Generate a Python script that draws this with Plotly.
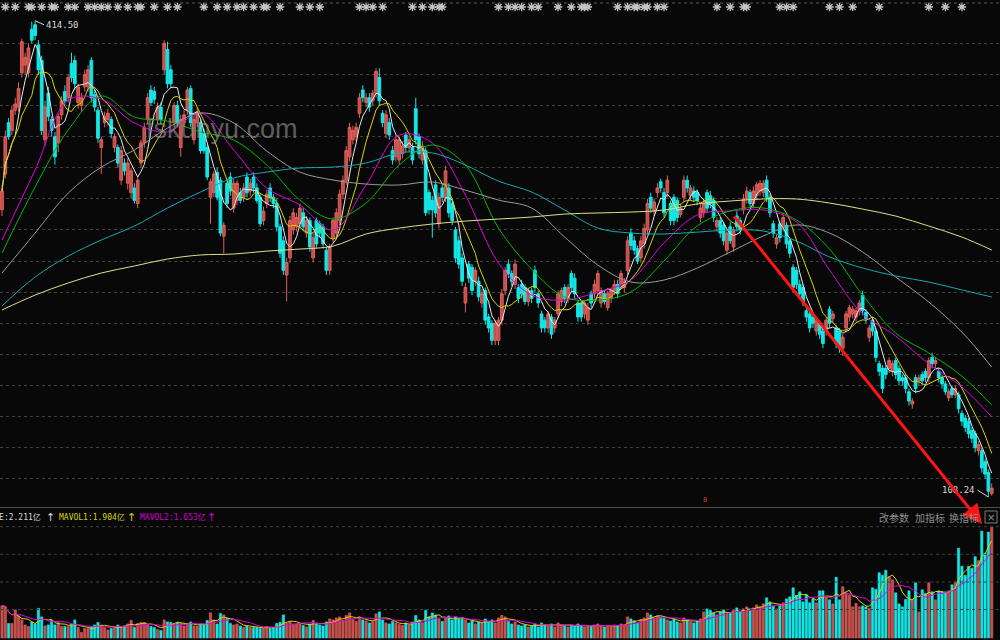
import plotly.graph_objects as go
import pandas as pd

# ---------------- data (prices in CNY, volume in 亿) ----------------
open_ = [
    293, 316, 349, 344, 357, 359, 381, 386, 381, 409,
    412, 399, 389, 338, 368, 351, 340, 336, 354, 369,
    365, 387, 389, 362, 360, 372, 372, 389, 367, 357,
    333, 349, 351, 351, 333, 333, 312, 323, 310, 304,
    307, 297, 323, 336, 351, 370, 369, 351, 359, 383,
    396, 383, 349, 360, 333, 349, 357, 371, 338, 349,
    349, 342, 333, 301, 304, 317, 312, 276, 310, 314,
    294, 299, 304, 301, 314, 305, 314, 307, 301, 286,
    297, 307, 301, 297, 282, 273, 251, 262, 280, 282,
    284, 291, 278, 286, 262, 286, 284, 282, 267, 254,
    275, 278, 286, 303, 312, 327, 338, 340, 355, 370,
    362, 365, 363, 368, 378, 355, 342, 349, 331, 327,
    325, 329, 341, 333, 333, 358, 340, 325, 331, 304,
    299, 309, 284, 307, 301, 307, 297, 280, 273, 262,
    233, 258, 256, 247, 247, 233, 241, 224, 220, 209,
    209, 222, 241, 258, 252, 245, 243, 245, 243, 234,
    241, 254, 239, 226, 222, 217, 224, 217, 226, 234,
    243, 236, 252, 249, 233, 233, 226, 222, 239, 239,
    241, 233, 239, 230, 236, 241, 245, 245, 243, 254,
    278, 273, 268, 262, 271, 280, 301, 292, 304, 311,
    304, 304, 297, 301, 299, 290, 301, 312, 302, 305,
    304, 288, 291, 304, 302, 299, 282, 286, 283, 267,
    282, 269, 289, 286, 293, 300, 304, 297, 302, 305,
    304, 312, 301, 284, 271, 284, 282, 283, 273, 256,
    254, 245, 243, 228, 226, 224, 215, 220, 215, 215,
    229, 223, 217, 215, 204, 217, 224, 226, 224, 228,
    238, 227, 211, 222, 215, 194, 191, 191, 191, 189,
    196, 191, 185, 185, 176, 168, 185, 183, 187, 189,
    185, 198, 194, 189, 185, 181, 172, 178, 174, 174,
    162, 159, 157, 151, 149, 138, 138, 131, 124, 110.5,
]
close = [
    305, 340, 340, 357, 361, 371, 401, 391, 397, 402,
    405, 383, 344, 359, 353, 344, 327, 353, 363, 363,
    378, 378, 374, 372, 365, 380, 383, 365, 359, 339,
    338, 353, 355, 342, 340, 323, 331, 318, 323, 318,
    299, 312, 336, 346, 365, 362, 364, 359, 351, 400,
    374, 374, 360, 349, 351, 354, 370, 349, 351, 356,
    331, 331, 314, 311, 316, 301, 278, 283, 297, 305,
    310, 310, 299, 307, 304, 310, 307, 299, 284, 292,
    303, 301, 297, 282, 265, 254, 259, 286, 291, 288,
    294, 282, 286, 269, 275, 271, 278, 271, 254, 269,
    286, 291, 303, 312, 331, 346, 344, 346, 365, 365,
    365, 359, 368, 382, 363, 349, 354, 341, 325, 338,
    338, 334, 333, 338, 325, 338, 329, 334, 291, 293,
    293, 291, 301, 301, 318, 291, 286, 262, 258, 247,
    243, 249, 241, 254, 237, 239, 222, 217, 209, 220,
    222, 239, 254, 252, 247, 258, 236, 239, 234, 241,
    236, 243, 233, 217, 217, 226, 213, 222, 239, 241,
    236, 243, 243, 239, 224, 224, 233, 230, 233, 245,
    252, 241, 234, 239, 241, 245, 239, 252, 247, 273,
    270, 267, 260, 273, 281, 297, 294, 298, 307, 307,
    291, 312, 286, 286, 288, 294, 312, 307, 307, 301,
    299, 294, 297, 294, 297, 288, 286, 278, 273, 278,
    273, 280, 282, 280, 300, 305, 297, 305, 309, 310,
    310, 301, 291, 278, 275, 275, 288, 271, 265, 243,
    245, 239, 234, 224, 217, 220, 222, 213, 207, 222,
    220, 226, 207, 204, 211, 226, 230, 229, 228, 233,
    228, 223, 217, 215, 198, 189, 178, 187, 196, 194,
    187, 183, 183, 178, 170, 170, 178, 185, 183, 185,
    196, 194, 196, 185, 181, 176, 176, 174, 178, 165,
    157, 153, 149, 146, 140, 142, 127, 123, 112, 114,
]
high = [
    309, 344, 352, 360, 365, 375, 403, 394, 400, 414,
    414.5, 402, 392, 363, 372, 353, 343, 355, 366, 373,
    380, 394, 392, 374, 368, 383, 386, 391, 370, 359,
    340, 356, 358, 353, 342, 335, 334, 326, 326, 320,
    310, 314, 338, 349, 368, 373, 372, 362, 362, 402,
    401, 386, 362, 363, 354, 357, 372, 373, 354, 359,
    351, 345, 335, 313, 318, 320, 314, 285, 313, 317,
    313, 312, 307, 310, 317, 313, 317, 310, 303, 295,
    306, 310, 303, 300, 284, 276, 262, 289, 294, 291,
    297, 294, 289, 288, 278, 288, 286, 284, 269, 271,
    288, 294, 306, 315, 334, 349, 347, 349, 368, 373,
    368, 368, 370, 384, 384, 357, 357, 352, 334, 341,
    340, 337, 343, 340, 336, 365, 342, 337, 333, 306,
    302, 312, 304, 310, 321, 310, 299, 282, 276, 265,
    246, 260, 258, 256, 250, 242, 243, 226, 222, 222,
    224, 242, 256, 261, 254, 261, 245, 248, 245, 243,
    243, 257, 241, 228, 224, 228, 226, 224, 241, 243,
    245, 245, 254, 252, 235, 235, 235, 233, 241, 248,
    254, 243, 241, 241, 243, 248, 248, 254, 249, 276,
    281, 276, 270, 276, 284, 300, 304, 300, 310, 313,
    307, 315, 299, 303, 301, 297, 315, 315, 309, 308,
    306, 297, 300, 306, 305, 301, 288, 288, 285, 280,
    285, 282, 292, 288, 303, 308, 306, 308, 311, 312,
    312, 315, 303, 286, 277, 286, 291, 285, 275, 258,
    256, 248, 245, 230, 228, 226, 224, 222, 217, 224,
    231, 228, 219, 217, 213, 228, 232, 231, 230, 235,
    241, 229, 219, 224, 217, 196, 193, 193, 198, 196,
    198, 193, 187, 187, 178, 172, 187, 187, 189, 191,
    198, 201, 198, 191, 187, 183, 178, 180, 180, 176,
    164, 161, 159, 153, 151, 144, 140, 133, 126, 117,
]
low = [
    289, 313, 338, 341, 354, 356, 378, 380, 378, 400,
    402, 380, 341, 334, 350, 340, 322, 330, 351, 360,
    362, 375, 370, 358, 356, 369, 369, 362, 356, 336,
    316, 346, 347, 339, 330, 320, 309, 315, 306, 300,
    297, 294, 320, 333, 348, 360, 361, 348, 348, 380,
    371, 371, 346, 346, 327, 346, 354, 346, 335, 346,
    329, 329, 312, 284, 301, 299, 276, 265, 294, 302,
    291, 296, 297, 298, 301, 302, 304, 297, 282, 283,
    294, 298, 294, 279, 262, 251, 234, 259, 277, 279,
    281, 279, 275, 266, 259, 268, 275, 268, 251, 251,
    272, 275, 283, 300, 309, 324, 335, 337, 352, 362,
    359, 356, 360, 365, 360, 346, 339, 338, 322, 324,
    322, 326, 330, 330, 322, 335, 326, 322, 289, 290,
    275, 288, 281, 298, 298, 288, 283, 259, 255, 244,
    227, 246, 238, 244, 234, 230, 219, 214, 206, 206,
    206, 219, 238, 249, 244, 242, 233, 236, 232, 231,
    233, 240, 230, 214, 214, 214, 210, 214, 223, 231,
    233, 233, 240, 236, 221, 221, 223, 219, 230, 236,
    238, 230, 232, 228, 233, 238, 236, 242, 240, 251,
    267, 264, 258, 259, 268, 277, 291, 289, 301, 304,
    288, 301, 283, 283, 285, 288, 298, 304, 299, 298,
    296, 285, 288, 291, 294, 285, 279, 275, 270, 264,
    271, 266, 279, 277, 290, 297, 294, 294, 299, 302,
    301, 298, 288, 275, 268, 272, 279, 268, 262, 240,
    242, 236, 231, 221, 214, 217, 212, 210, 204, 212,
    217, 220, 204, 201, 199, 214, 221, 223, 221, 225,
    225, 220, 208, 212, 195, 186, 175, 184, 188, 186,
    184, 180, 180, 175, 167, 165, 175, 180, 180, 182,
    182, 191, 191, 182, 178, 174, 170, 172, 172, 162,
    154, 150, 146, 143, 137, 135, 124, 120, 108.24, 109,
]
volume = [  # 亿
    0.64, 0.62, 0.29, 0.29, 0.56, 0.44, 0.36, 0.26, 0.23, 0.32,
    0.28, 0.59, 0.42, 0.24, 0.26, 0.35, 0.26, 0.31, 0.23, 0.23,
    0.23, 0.28, 0.36, 0.21, 0.11, 0.19, 0.19, 0.23, 0.26, 0.31,
    0.26, 0.21, 0.16, 0.19, 0.23, 0.26, 0.23, 0.24, 0.28, 0.35,
    0.21, 0.29, 0.31, 0.31, 0.26, 0.23, 0.21, 0.17, 0.15, 0.36,
    0.32, 0.31, 0.28, 0.31, 0.29, 0.24, 0.28, 0.32, 0.24, 0.24,
    0.28, 0.26, 0.35, 0.50, 0.36, 0.28, 0.49, 0.46, 0.39, 0.29,
    0.26, 0.28, 0.24, 0.21, 0.24, 0.21, 0.21, 0.21, 0.19, 0.19,
    0.23, 0.19, 0.21, 0.29, 0.31, 0.46, 0.29, 0.32, 0.28, 0.28,
    0.30, 0.25, 0.22, 0.28, 0.35, 0.30, 0.26, 0.24, 0.32, 0.38,
    0.36, 0.40, 0.42, 0.35, 0.45, 0.50, 0.38, 0.33, 0.42, 0.36,
    0.34, 0.30, 0.33, 0.48, 0.52, 0.36, 0.30, 0.28, 0.33, 0.30,
    0.27, 0.25, 0.30, 0.26, 0.32, 0.45, 0.36, 0.30, 0.55, 0.42,
    0.50, 0.46, 0.38, 0.33, 0.40, 0.44, 0.36, 0.42, 0.38, 0.40,
    0.36, 0.30, 0.34, 0.28, 0.32, 0.30, 0.38, 0.32, 0.36, 0.30,
    0.40, 0.45, 0.42, 0.33, 0.28, 0.32, 0.26, 0.24, 0.26, 0.22,
    0.24, 0.28, 0.22, 0.30, 0.26, 0.24, 0.28, 0.22, 0.30, 0.26,
    0.24, 0.22, 0.26, 0.24, 0.28, 0.25, 0.22, 0.24, 0.23, 0.26,
    0.28, 0.24, 0.22, 0.25, 0.23, 0.26, 0.24, 0.28, 0.26, 0.42,
    0.38, 0.34, 0.30, 0.36, 0.40, 0.50, 0.46, 0.40, 0.44, 0.42,
    0.40, 0.36, 0.34, 0.38, 0.32, 0.30, 0.40, 0.36, 0.32, 0.30,
    0.34, 0.38, 0.52, 0.58, 0.55, 0.50, 0.46, 0.52, 0.56, 0.48,
    0.50, 0.55, 0.60, 0.52, 0.58, 0.62, 0.56, 0.60, 0.66, 0.62,
    0.68, 0.80, 0.72, 0.64, 0.58, 0.66, 0.70, 0.78, 0.82, 1.00,
    0.85, 0.92, 0.72, 0.86, 0.70, 0.78, 0.70, 0.94, 0.94, 0.82,
    0.76, 0.68, 1.21, 0.76, 1.02, 0.90, 0.86, 0.62, 0.69, 0.62,
    0.64, 0.62, 0.59, 1.00, 0.97, 1.30, 1.25, 1.35, 1.22, 1.16,
    0.90, 0.68, 0.62, 0.77, 0.94, 0.77, 1.10, 0.52, 0.96, 0.89,
    1.10, 0.92, 0.76, 0.94, 0.92, 0.92, 0.94, 1.06, 1.12, 1.79,
    1.43, 1.25, 1.43, 1.39, 1.62, 1.54, 2.13, 1.69, 2.11, 2.211,
]

# longer moving averages, every 10 sessions
ma_idx = [0, 10, 20, 30, 40, 50, 60, 70, 80, 90, 100, 110, 120, 130, 140, 150,
          160, 170, 180, 190, 200, 210, 220, 230, 240, 250, 260, 270, 280, 290, 299]
ma20 = [273.5, 318.5, 363.5, 364.2, 348.8, 343.0, 355.2, 331.4, 306.9, 296.0, 279.9,
        308.9, 341.0, 335.9, 302.4, 258.7, 238.1, 234.9, 240.1, 247.8, 271.6, 289.6,
        292.2, 292.8, 285.1, 254.2, 225.9, 211.8, 193.8, 179.0, 159.7]
ma30 = [265.1, 307.6, 344.2, 366.1, 352.6, 350.0, 343.0, 337.8, 321.7, 299.2, 287.0,
        297.3, 321.7, 334.6, 321.7, 281.2, 254.8, 236.9, 234.9, 240.1, 260.0, 282.5,
        292.2, 294.1, 286.4, 267.7, 238.1, 213.7, 200.8, 186.0, 167.4]
ma60 = [252.3, 278.0, 303.7, 320.4, 331.4, 345.5, 355.2, 348.8, 330.7, 317.2, 312.1,
        309.5, 308.9, 310.8, 305.6, 299.2, 294.1, 275.4, 257.4, 246.5, 247.8, 255.5,
        265.8, 276.1, 283.2, 278.0, 265.8, 249.7, 233.6, 214.3, 191.8]
ma120 = [231.1, 249.7, 263.2, 273.5, 282.5, 294.1, 304.4, 313.4, 317.2, 319.8, 320.4,
         323.0, 329.5, 329.5, 321.7, 311.4, 304.4, 292.8, 281.2, 278.0, 277.4, 278.6,
         279.9, 279.3, 272.9, 262.6, 255.5, 250.4, 246.5, 241.4, 236.9]
ma250 = [228.5, 238.1, 245.9, 252.3, 256.8, 261.3, 263.9, 264.5, 266.4, 267.7, 269.6,
         277.4, 281.2, 283.8, 285.7, 287.0, 288.3, 290.2, 290.9, 291.5, 292.8, 296.7,
         298.6, 299.9, 299.9, 297.3, 293.4, 288.9, 282.5, 275.4, 267.1]

# sessions carrying an information marker (top strip)
info_idx = [1, 4, 8, 9, 12, 15, 16, 20, 22, 26, 28, 30, 32, 35, 38, 41, 42, 46, 50, 53,
            61, 65, 68, 71, 73, 76, 79, 80, 84, 90, 93, 96, 108, 110, 112, 115, 124, 127,
            130, 132, 133, 150, 153, 155, 157, 160, 162, 168, 172, 175, 176, 177, 186,
            189, 191, 192, 194, 195, 198, 200, 216, 220, 224, 225, 235, 237, 239, 250,
            253, 257, 265, 280, 285, 290]

last_vol, mavol1_last, mavol2_last = "2.211", "1.904", "1.653"

for name, arr in [("open", open_), ("high", high), ("low", low), ("volume", volume)]:
    if len(arr) != len(close):
        raise ValueError(f"{name} has {len(arr)} values, close has {len(close)}")
for name, arr in [("ma20", ma20), ("ma30", ma30), ("ma60", ma60), ("ma120", ma120), ("ma250", ma250)]:
    if len(arr) != len(ma_idx):
        raise ValueError(f"{name} has {len(arr)} values")

# ---------------- derived series ----------------
n = len(close)
idx = list(range(n))
cs = pd.Series(close, dtype=float)
ma5 = cs.rolling(5, min_periods=1).mean()
ma10 = cs.rolling(10, min_periods=1).mean()
vs = pd.Series(volume, dtype=float)
mavol1 = vs.rolling(5, min_periods=1).mean()
mavol2 = vs.rolling(10, min_periods=1).mean()

# ---------------- styling constants ----------------
W, H = 1000, 640
SPLIT = 508            # pixel row separating price and volume panels
PRICE_RANGE = [101.2, 427.85]
VOL_RANGE = [-0.04, 2.59]
X_RANGE = [-0.6, 301.5]
BG = "#080808"
UP_LINE, UP_FILL = "#e0605a", "#c24f4b"
DN = "#14e6e6"
GRID = "#3e3e3e"

def py(px):
    return 1 - px / H

fig = go.Figure()

fig.add_trace(go.Candlestick(
    x=idx, open=open_, high=high, low=low, close=close,
    increasing=dict(line=dict(color=UP_LINE, width=1), fillcolor=UP_FILL),
    decreasing=dict(line=dict(color=DN, width=1), fillcolor=DN),
    whiskerwidth=0, showlegend=False, hoverinfo="skip", xaxis="x", yaxis="y"))

for s, col in [(ma5, "#e8e8e8"), (ma10, "#d6d600")]:
    fig.add_trace(go.Scatter(x=idx, y=s, mode="lines", line=dict(color=col, width=1),
                             showlegend=False, hoverinfo="skip", xaxis="x", yaxis="y"))
for s, col in [(ma20, "#e000e0"), (ma30, "#00b800"), (ma60, "#9a9a9a"),
               (ma120, "#14a8b4"), (ma250, "#dede8c")]:
    fig.add_trace(go.Scatter(x=ma_idx, y=s, mode="lines",
                             line=dict(color=col, width=1, shape="spline", smoothing=1.0),
                             showlegend=False, hoverinfo="skip", xaxis="x", yaxis="y"))

# information markers along the top
y_top = PRICE_RANGE[1] - 7 / SPLIT * (PRICE_RANGE[1] - PRICE_RANGE[0])
fig.add_trace(go.Scatter(x=info_idx, y=[y_top] * len(info_idx), mode="markers",
                         marker=dict(symbol="asterisk-open", size=7, color="#c4c4c4",
                                     line=dict(color="#c4c4c4", width=1.3)),
                         showlegend=False, hoverinfo="skip", xaxis="x", yaxis="y"))

# volume
vcol = [UP_FILL if c >= o else DN for o, c in zip(open_, close)]
vline = [UP_LINE if c >= o else DN for o, c in zip(open_, close)]
fig.add_trace(go.Bar(x=idx, y=volume, width=0.68,
                     marker=dict(color=vcol, line=dict(color=vline, width=0.6)),
                     showlegend=False, hoverinfo="skip", xaxis="x2", yaxis="y2"))
fig.add_trace(go.Scatter(x=idx, y=mavol1, mode="lines", line=dict(color="#d6d600", width=1),
                         showlegend=False, hoverinfo="skip", xaxis="x2", yaxis="y2"))
fig.add_trace(go.Scatter(x=idx, y=mavol2, mode="lines", line=dict(color="#e000e0", width=1),
                         showlegend=False, hoverinfo="skip", xaxis="x2", yaxis="y2"))

shapes = []
shapes.append(dict(type="line", xref="paper", yref="paper", x0=0, x1=1, y0=py(3), y1=py(3),
                   line=dict(color="#5a5a5a", width=1, dash="dot")))
shapes.append(dict(type="line", xref="paper", yref="paper", x0=0, x1=1, y0=py(507.5), y1=py(507.5),
                   line=dict(color="#505050", width=1)))
for gy in [526.7, 554.3, 582.0, 609.5]:
    shapes.append(dict(type="line", xref="paper", yref="paper", x0=0, x1=1, y0=py(gy), y1=py(gy),
                       line=dict(color=GRID, width=1, dash="dot")))
shapes.append(dict(type="rect", xref="paper", yref="paper", x0=985 / W, x1=997 / W,
                   y0=py(523), y1=py(511), line=dict(color="#7a7a7a", width=1)))

mono = "DejaVu Sans Mono, Noto Sans CJK SC"
ann = []

def label(px_x, px_y, text, font, xanchor="center"):
    ann.append(dict(x=px_x / W, y=py(px_y), xref="paper", yref="paper", text=text,
                    showarrow=False, xanchor=xanchor, yanchor="middle", font=font))

ann.append(dict(x=10, y=414.5, xref="x", yref="y", text="414.50", showarrow=True,
                arrowhead=0, arrowwidth=1, arrowcolor="#d0d0d0", ax=9, ay=4,
                xanchor="left", yanchor="middle", font=dict(family=mono, size=9, color="#d8d8d8")))
ann.append(dict(x=298, y=108.24, xref="x", yref="y", text="108.24", showarrow=True,
                arrowhead=0, arrowwidth=1, arrowcolor="#d0d0d0", ax=-11, ay=-7,
                xanchor="right", yanchor="middle", font=dict(family=mono, size=9, color="#d8d8d8")))
label(222, 129, "fskunyu.com",
      dict(family="Liberation Sans, Arial", size=27, color="rgba(150,150,150,0.62)"))
ann.append(dict(x=982 / W, y=py(524), xref="paper", yref="paper", text="", showarrow=True,
                ax=733 - 982, ay=215 - 524, axref="pixel", ayref="pixel",
                arrowhead=2, arrowsize=1.3, arrowwidth=3, arrowcolor="#ff1414"))
HY = 517
label(43, HY, f"VOLUME:{last_vol}亿", dict(family=mono, size=8, color="#d8d8d8"), "right")
label(50.5, HY, "↑", dict(family="DejaVu Sans", size=11, color="#d8d8d8"))
label(57, HY, f"MAVOL1:{mavol1_last}亿", dict(family=mono, size=8, color="#d6d600"), "left")
label(131, HY, "↑", dict(family="DejaVu Sans", size=11, color="#d6d600"))
label(137.5, HY, f"MAVOL2:{mavol2_last}亿", dict(family=mono, size=8, color="#d000d0"), "left")
label(211, HY, "↑", dict(family="DejaVu Sans", size=11, color="#d000d0"))
for txt, cx in [("改参数", 894), ("加指标", 929.5), ("换指标", 964)]:
    label(cx, HY, txt, dict(family="Noto Sans CJK SC", size=10, color="#8e8e8e"))
label(991, HY, "×", dict(family="DejaVu Sans", size=10, color="#8e8e8e"))
label(705, 500, "8", dict(family=mono, size=7, color="#d84040"))

fig.update_layout(
    width=W, height=H, margin=dict(l=0, r=0, t=0, b=0),
    paper_bgcolor=BG, plot_bgcolor=BG, showlegend=False,
    boxgap=0.18, boxgroupgap=0.0,
    xaxis=dict(domain=[0, 1], range=X_RANGE, visible=False, rangeslider=dict(visible=False),
               anchor="y"),
    xaxis2=dict(domain=[0, 1], range=X_RANGE, visible=False, matches="x", anchor="y2"),
    yaxis=dict(domain=[py(SPLIT), 1], range=PRICE_RANGE, tickvals=list(range(120, 401, 20)),
               showticklabels=False, ticks="", showgrid=True, gridcolor=GRID, griddash="dot",
               gridwidth=1, zeroline=False, showline=False, anchor="x"),
    yaxis2=dict(domain=[0, py(SPLIT)], range=VOL_RANGE, visible=False, showgrid=False,
                zeroline=False, anchor="x2"),
    shapes=shapes, annotations=ann, hovermode=False,
)

fig.write_html("out.html", config={"displayModeBar": False, "staticPlot": True},
               post_script="document.body.style.margin='0';document.body.style.padding='0';"
                           "document.body.style.background='#080808';")
